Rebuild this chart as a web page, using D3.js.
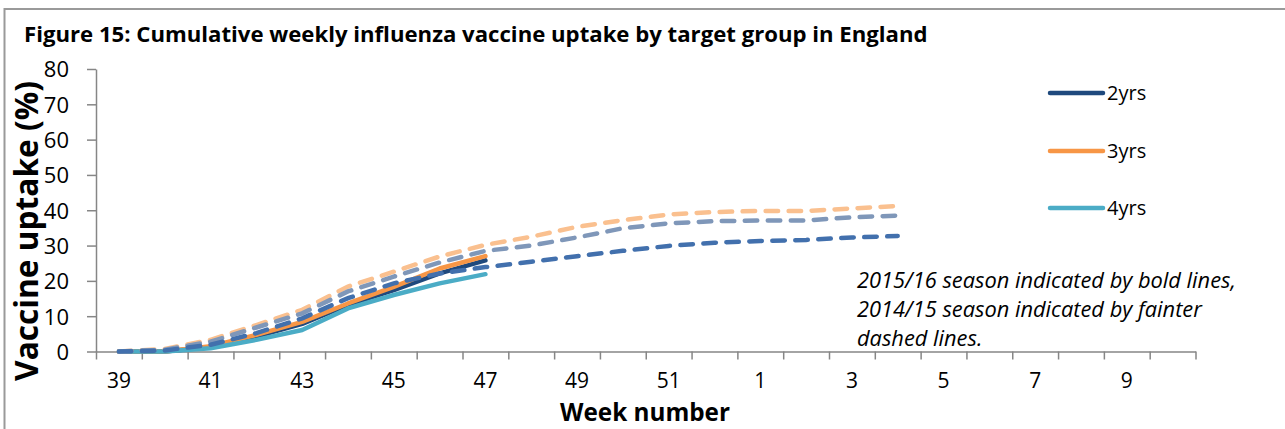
<!DOCTYPE html>
<html>
<head>
<meta charset="utf-8">
<script src="https://cdn.jsdelivr.net/npm/d3@7"></script>
<style>
  body { margin: 0; background: #fff; }
  svg text { font-family: "Open Sans", Lato, sans-serif; }
</style>
</head>
<body>
<div id="chart"></div>
<script>
// week categories, 2015/16 solid and 2014/15 dashed series
const weeks = ["39","40","41","42","43","44","45","46","47","48","49","50","51","52",
  "1","2","3","4","5","6","7","8","9","10"];
const yTicks = [0, 10, 20, 30, 40, 50, 60, 70, 80];

const uptake2yrs = [0, 0, 1.3, 4.2, 7.8, 13.2, 17.4, 22.1, 25.8];
const uptake3yrs = [0, 0, 1.5, 4.7, 8.4, 13.6, 18.3, 23.5, 27.0];
const uptake4yrs = [0, 0, 0.9, 3.3, 6.1, 12.2, 16.0, 19.3, 21.9];

const prevOrange = [0, 0.7, 3.3, 7.5, 11.8, 18.4, 22.6, 26.9, 30.2, 32.5, 35.3, 37.2, 38.8, 39.5, 39.8, 39.8, 40.5, 41.2];
const prevGrey   = [0, 0.5, 2.8, 6.8, 10.8, 17.0, 21.2, 25.2, 28.5, 30.0, 32.3, 34.9, 36.3, 36.9, 37.1, 37.1, 38.0, 38.5];
const prevBlue   = [0, 0.3, 1.9, 5.2, 9.4, 15.1, 19.3, 22.1, 23.9, 25.4, 27.0, 28.5, 29.9, 30.8, 31.3, 31.6, 32.3, 32.7];

const legendNames = ["2yrs", "3yrs", "4yrs"];
const solidColors = ["#1f497d", "#f79646", "#4bacc6"];

const W = 1285, H = 429;
const svg = d3.select("#chart").append("svg").attr("width", W).attr("height", H);

// shrink/grow a text's font so it spans the wanted width
function fitWidth(sel, want) {
  const size = +sel.attr("font-size");
  const got = sel.node().getComputedTextLength();
  sel.attr("font-size", (size * want / got).toFixed(2));
  return sel;
}

// frame (only top and left visible)
svg.append("rect").attr("x", 4.5).attr("y", 9).attr("width", 1300).attr("height", 450)
  .attr("fill", "none").attr("stroke", "#9a9a9a").attr("stroke-width", 2);

fitWidth(svg.append("text").attr("x", 24).attr("y", 42)
  .attr("font-weight", "bold").attr("font-size", 21)
  .text("Figure 15: Cumulative weekly influenza vaccine uptake by target group in England"), 904);

const plotLeft = 96, plotRight = 1195.5, plotTop = 69, plotBottom = 351.5;

const x = d3.scaleBand().domain(weeks).range([plotLeft, plotRight]);
const xEdge = d3.scaleLinear().domain([0, weeks.length]).range([plotLeft, plotRight]);
const y = d3.scaleLinear().domain([0, 80]).range([plotBottom, plotTop]);

const axisColor = "#868686";

// y axis
const gy = svg.append("g").attr("transform", "translate(" + plotLeft + ",0)")
  .call(d3.axisLeft(y).tickValues(yTicks).tickSize(9).tickSizeOuter(0).tickPadding(18));
gy.selectAll("text").attr("font-size", 22).attr("fill", "#000").attr("dy", "0.36em");

// x axis: ticks on category edges, labels on every other category
const gxTicks = svg.append("g").attr("transform", "translate(0," + plotBottom + ")")
  .call(d3.axisBottom(xEdge).tickValues(d3.range(0, weeks.length + 1)).tickSize(8).tickSizeOuter(0).tickFormat(""));
const gx = svg.append("g").attr("transform", "translate(0," + plotBottom + ")")
  .call(d3.axisBottom(x).tickValues(weeks.filter((d, i) => i % 2 === 0)).tickSize(0).tickPadding(22));
gx.select(".domain").remove();
gx.selectAll("text").attr("font-size", 21).attr("fill", "#000");

[gy, gxTicks].forEach((g) => {
  g.selectAll("line").attr("stroke", axisColor).attr("stroke-width", 1.5);
  g.select(".domain").attr("stroke", axisColor).attr("stroke-width", 1.5);
});

// axis titles
fitWidth(svg.append("text").attr("x", 645).attr("y", 421).attr("text-anchor", "middle")
  .attr("font-weight", "bold").attr("font-size", 22).text("Week number"), 170);
fitWidth(svg.append("text").attr("transform", "translate(38,231) rotate(-90)").attr("text-anchor", "middle")
  .attr("font-weight", "bold").attr("font-size", 23).text("Vaccine uptake (%)"), 300);

const line = d3.line().x((d, i) => x(weeks[i]) + x.bandwidth() / 2).y((d) => y(d));

// current season, solid
[uptake2yrs, uptake3yrs, uptake4yrs].forEach((vals, k) => {
  svg.append("path").datum(vals).attr("d", line)
    .attr("fill", "none").attr("stroke", solidColors[k]).attr("stroke-width", 4.5)
    .attr("stroke-linejoin", "round").attr("stroke-linecap", "round");
});

// previous season, dashed
const dashed = [
  { vals: prevOrange, color: "#fac08f" },
  { vals: prevGrey, color: "#7f97b9" },
  { vals: prevBlue, color: "#4270ad" }
];
dashed.forEach((s) => {
  svg.append("path").datum(s.vals).attr("d", line)
    .attr("fill", "none").attr("stroke", s.color).attr("stroke-width", 4.5)
    .attr("stroke-dasharray", "12.5,10.5").attr("stroke-linecap", "round");
});

// legend
const legendY = [93, 151, 208];
legendNames.forEach((name, k) => {
  svg.append("line").attr("x1", 1050).attr("x2", 1103).attr("y1", legendY[k]).attr("y2", legendY[k])
    .attr("stroke", solidColors[k]).attr("stroke-width", 4.5).attr("stroke-linecap", "round");
  svg.append("text").attr("x", 1107).attr("y", legendY[k]).attr("dy", "0.36em")
    .attr("font-size", 20).text(name);
});

// note
const note = ["2015/16 season indicated by bold lines,", "2014/15 season indicated by fainter", "dashed lines."];
const noteFont = +fitWidth(svg.append("text").attr("font-style", "italic").attr("font-size", 19)
  .text(note[0]), 379).remove().attr("font-size");
note.forEach((t, i) => {
  svg.append("text").attr("x", 857).attr("y", 288 + i * 29)
    .attr("font-style", "italic").attr("font-size", noteFont).text(t);
});
</script>
</body>
</html>
